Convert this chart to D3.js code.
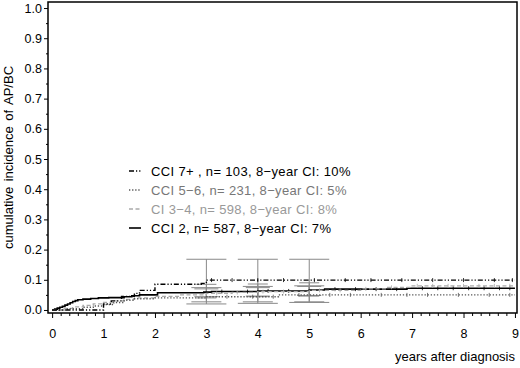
<!DOCTYPE html>
<html>
<head>
<meta charset="utf-8">
<script src="https://cdn.jsdelivr.net/npm/d3@7"></script>
<style>
  body { margin: 0; background: #fff; }
  svg { display: block; font-family: "Liberation Sans", Arial, sans-serif; }
  .tick text { font-size: 12.5px; fill: #000; }
</style>
</head>
<body>
<div id="container"></div>
<script>
var svgWidth = 520;
var svgHeight = 368;

// step curves (time in years, cumulative incidence)
var cci2Time = [0, 0.05, 0.1, 0.15, 0.2, 0.25, 0.3, 0.35, 0.4, 0.45, 0.5, 0.6, 0.75, 0.9, 1.1, 1.4, 1.55, 1.7, 2.05, 2.95, 3.1, 4.0, 5.0, 5.3, 6.9, 9.0];
var cci2Val  = [0, 0.003, 0.006, 0.009, 0.012, 0.016, 0.02, 0.024, 0.028, 0.031, 0.034, 0.036, 0.038, 0.040, 0.041, 0.044, 0.047, 0.050, 0.057, 0.059, 0.061, 0.063, 0.066, 0.069, 0.072, 0.072];

var cci34Time = [0, 0.2, 0.4, 0.6, 0.8, 1.0, 1.2, 1.4, 1.6, 2.0, 2.5, 3.0, 3.5, 4.0, 5.0, 6.0, 6.5, 7.0, 9.0];
var cci34Val  = [0, 0.005, 0.01, 0.015, 0.02, 0.025, 0.03, 0.035, 0.04, 0.045, 0.05, 0.055, 0.058, 0.061, 0.065, 0.07, 0.075, 0.08, 0.08];

var cci56Time = [0, 0.3, 0.6, 0.8, 1.0, 1.2, 1.4, 1.6, 2.0, 3.0, 4.4, 9.0];
var cci56Val  = [0, 0.004, 0.009, 0.013, 0.018, 0.025, 0.032, 0.037, 0.040, 0.044, 0.050, 0.050];

var cci7Time = [0, 1.0, 1.15, 1.35, 1.6, 1.7, 2.0, 2.9, 3.0, 9.0];
var cci7Val  = [0, 0.02, 0.03, 0.045, 0.055, 0.065, 0.085, 0.088, 0.099, 0.099];

// censored observations
var cci2Cens  = [3.3, 3.8, 4.2, 4.6, 5.5, 5.9, 6.3, 6.7, 7.2, 7.5, 7.8, 8.1, 8.4, 8.7, 8.9];
var cci34Cens = [3.2, 3.6, 4.1, 4.5, 5.2, 5.6, 6.1, 6.6, 7.1, 7.4, 7.7, 8.0, 8.3, 8.6, 8.9];
var cci56Cens = [3.4, 3.9, 4.3, 4.8, 5.4, 5.8, 6.4, 6.9, 7.3, 7.9, 8.5, 8.9];
var cci7Cens  = [3.1, 3.5, 4.0, 4.5, 5.1, 5.7, 6.2, 6.8, 7.4, 8.0, 8.6, 8.95];

// pointwise confidence intervals
var ciYears = [3, 4, 5];
var cci7Lo  = [0.020, 0.022, 0.025];
var cci7Hi  = [0.168, 0.168, 0.168];
var cci56Lo = [0.027, 0.027, 0.027];
var cci56Hi = [0.074, 0.078, 0.080];
var cci34Lo = [0.044, 0.046, 0.048];
var cci34Hi = [0.070, 0.074, 0.078];
var cci2Lo  = [0.040, 0.044, 0.046];
var cci2Hi  = [0.085, 0.086, 0.090];

var xTicks = [0, 1, 2, 3, 4, 5, 6, 7, 8, 9];
var yTicks = [0, 0.1, 0.2, 0.3, 0.4, 0.5, 0.6, 0.7, 0.8, 0.9, 1.0];

var legendLabels = [
  "CCI 7+ , n= 103, 8\u2212year CI: 10%",
  "CCI 5\u22126, n= 231, 8\u2212year CI: 5%",
  "CI 3\u22124, n= 598, 8\u2212year CI: 8%",
  "CCI 2, n= 587, 8\u2212year CI: 7%"
];

var groups = [
  {t: cci7Time, v: cci7Val, cens: cci7Cens, lo: cci7Lo, hi: cci7Hi, color: "#000", dash: "5,2,1.2,2,1.2,2", w: 1.4, cap: 20, text: "#000"},
  {t: cci56Time, v: cci56Val, cens: cci56Cens, lo: cci56Lo, hi: cci56Hi, color: "#555", dash: "1.3,1.8", w: 1.4, cap: 15, text: "#777"},
  {t: cci34Time, v: cci34Val, cens: cci34Cens, lo: cci34Lo, hi: cci34Hi, color: "#aaa", dash: "4,2.5", w: 1.3, cap: 12, text: "#999"},
  {t: cci2Time, v: cci2Val, cens: cci2Cens, lo: cci2Lo, hi: cci2Hi, color: "#000", dash: null, w: 1.6, cap: 10, text: "#000"}
];

var frame = {left: 48, top: 2, right: 517, bottom: 313};

var svg = d3.select("#container")
  .append("svg")
  .attr("width", svgWidth)
  .attr("height", svgHeight);

var x = d3.scaleLinear().domain([-0.08, 9.04]).range([frame.left, frame.right]);
var y = d3.scaleLinear().domain([-0.01, 1.02]).range([frame.bottom, frame.top]);

// axes
var leftAxis = d3.axisLeft(y).tickValues(yTicks).tickFormat(d3.format(".1f")).tickSize(4).tickPadding(2);
var gy = svg.append("g").attr("transform", `translate(${frame.left},0)`).call(leftAxis);
gy.select(".domain").remove();

var yMinor = d3.range(0, 20).map(i => i * 0.05 + 0.05).filter(d => Math.round(d * 100) % 10 !== 0);
var gym = svg.append("g").attr("transform", `translate(${frame.left},0)`)
  .call(d3.axisLeft(y).tickValues(yMinor).tickFormat("").tickSize(2));
gym.select(".domain").remove();

var bottomAxis = d3.axisBottom(x).tickValues(xTicks).tickFormat(d3.format("d")).tickSize(5).tickPadding(11);
var gx = svg.append("g").attr("transform", `translate(0,${frame.bottom})`).call(bottomAxis);
gx.select(".domain").remove();

var xMinor = [];
xTicks.slice(0, -1).forEach(function(t) {
  [1, 2, 3, 4, 5].forEach(function(k) { xMinor.push(t + k / 6); });
});
var gxm = svg.append("g").attr("transform", `translate(0,${frame.bottom})`)
  .call(d3.axisBottom(x).tickValues(xMinor).tickFormat("").tickSize(3));
gxm.select(".domain").remove();

svg.selectAll(".tick line").attr("stroke", "#000");

// CI bars
var ciG = svg.append("g");
groups.forEach(function(g) {
  ciYears.forEach(function(yr, i) {
    ciG.append("line")
      .attr("x1", x(yr)).attr("x2", x(yr))
      .attr("y1", y(g.hi[i])).attr("y2", y(g.lo[i]))
      .attr("stroke", "#888").attr("stroke-width", 1);
    [g.hi[i], g.lo[i]].forEach(function(val) {
      ciG.append("line")
        .attr("x1", x(yr) - g.cap).attr("x2", x(yr) + g.cap)
        .attr("y1", y(val)).attr("y2", y(val))
        .attr("stroke", "#888").attr("stroke-width", 1);
    });
  });
});

// step curves
var line = d3.line()
  .x(d => x(d[0]))
  .y(d => y(d[1]))
  .curve(d3.curveStepAfter);

groups.slice().reverse().forEach(function(g) {
  var pts = g.t.map((t, i) => [t, g.v[i]]);
  svg.append("path")
    .datum(pts)
    .attr("d", line)
    .attr("fill", "none")
    .attr("stroke", g.color)
    .attr("stroke-width", g.w)
    .attr("stroke-dasharray", g.dash);

  var stepVal = d3.scaleThreshold().domain(g.t.slice(1)).range(g.v);
  svg.append("g").selectAll("line")
    .data(g.cens)
    .enter()
    .append("line")
    .attr("x1", d => x(d)).attr("x2", d => x(d))
    .attr("y1", d => y(stepVal(d)) - 2).attr("y2", d => y(stepVal(d)) + 2)
    .attr("stroke", g.color)
    .attr("stroke-width", 0.8);
});

// frame
svg.append("rect")
  .attr("x", frame.left).attr("y", frame.top)
  .attr("width", frame.right - frame.left)
  .attr("height", frame.bottom - frame.top)
  .attr("fill", "none")
  .attr("stroke", "#000")
  .attr("stroke-width", 1.5);

// legend
var legend = svg.append("g").attr("transform", "translate(129,176)");
groups.forEach(function(g, i) {
  var row = legend.append("g").attr("transform", `translate(0,${i * 19})`);
  row.append("line")
    .attr("x1", 0).attr("x2", 12)
    .attr("y1", -5).attr("y2", -5)
    .attr("stroke", g.color)
    .attr("stroke-width", g.w)
    .attr("stroke-dasharray", g.dash);
  row.append("text")
    .attr("x", 22).attr("y", 0)
    .style("font-size", "13px")
    .style("letter-spacing", "0.35px")
    .attr("fill", g.text)
    .text(legendLabels[i]);
});

// axis titles
svg.append("text")
  .attr("transform", `translate(13,${(frame.top + frame.bottom) / 2}) rotate(-90)`)
  .style("text-anchor", "middle")
  .style("font-size", "13px")
  .style("word-spacing", "2px")
  .text("cumulative incidence of AP/BC");

svg.append("text")
  .attr("x", 515).attr("y", 361)
  .style("text-anchor", "end")
  .style("font-size", "13px")
  .text("years after diagnosis");
</script>
</body>
</html>
